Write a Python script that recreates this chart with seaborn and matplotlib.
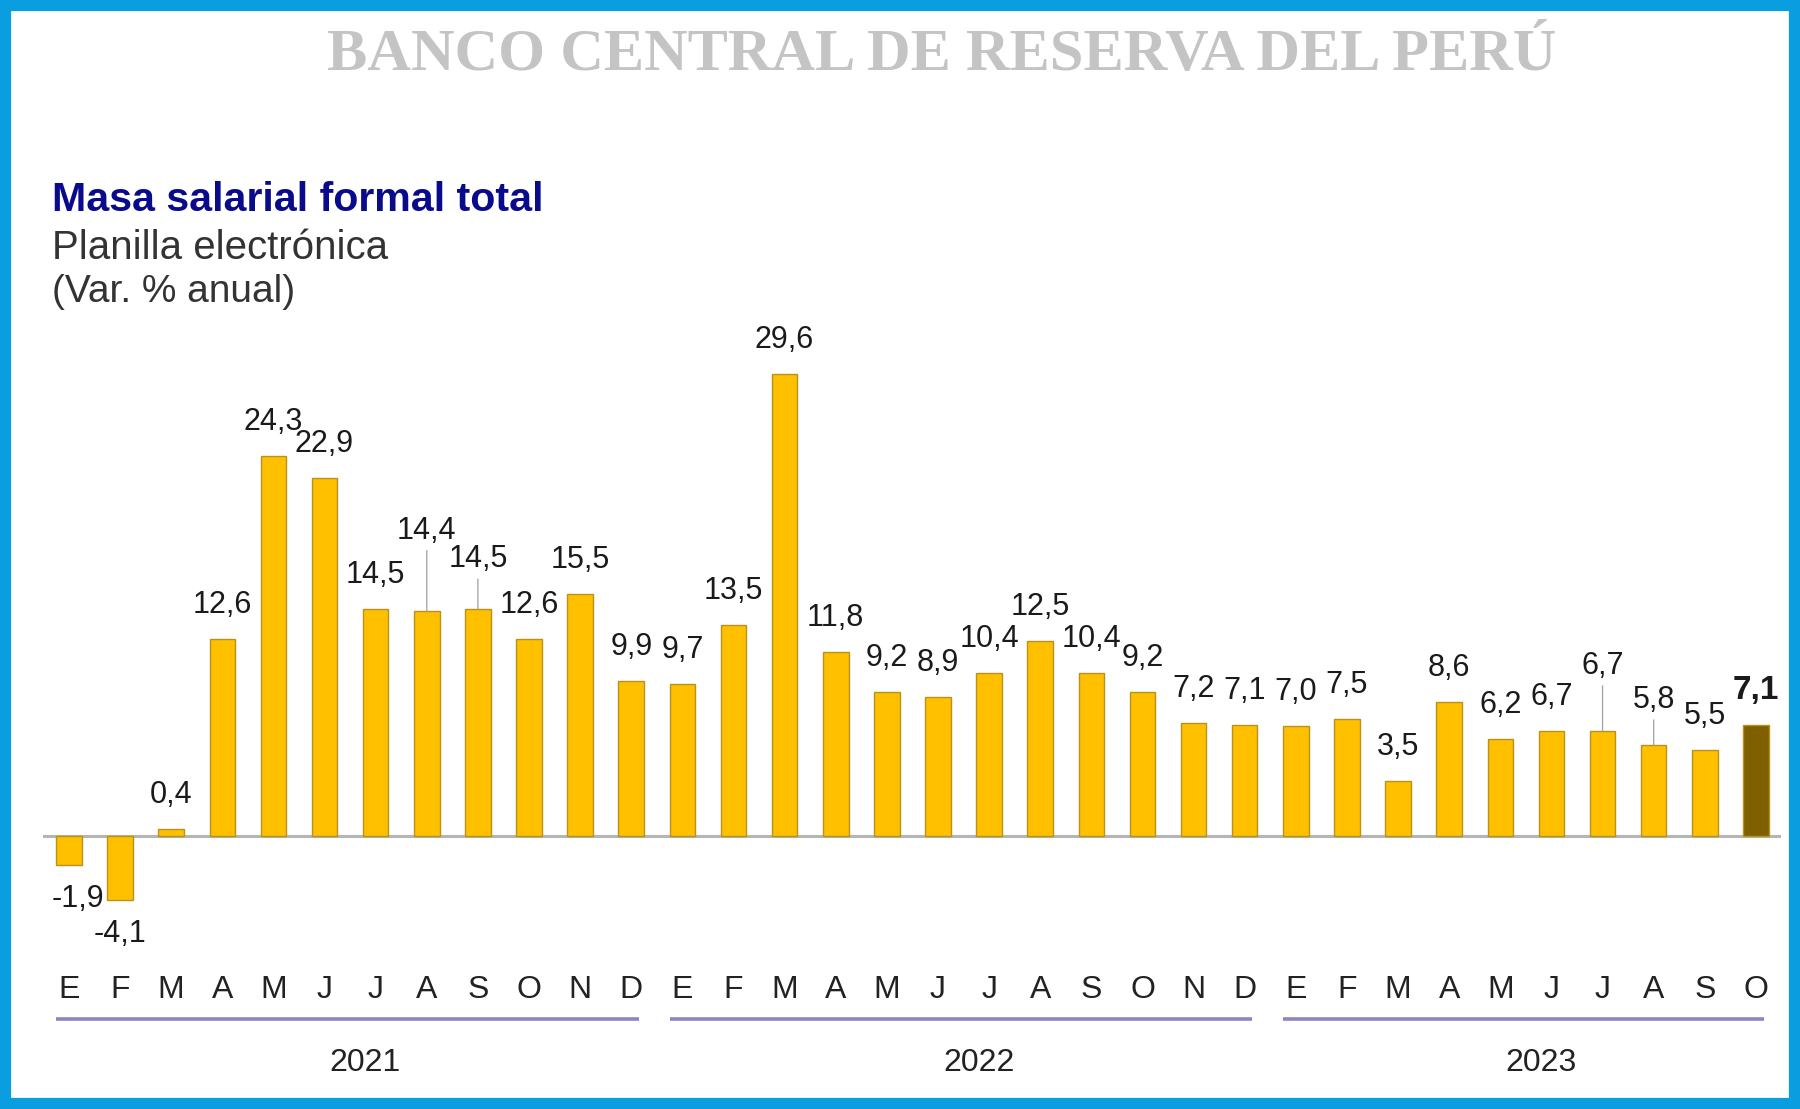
import pandas as pd
import matplotlib
matplotlib.use("Agg")
import matplotlib.pyplot as plt
import seaborn as sns
from matplotlib.patches import Rectangle

meses = ["E", "F", "M", "A", "M", "J", "J", "A", "S", "O", "N", "D"]
etiquetas = meses + meses + meses[:10]
anios = ["2021", "2022", "2023"]
meses_por_anio = [12, 12, 10]
valores = [-1.9, -4.1, 0.4, 12.6, 24.3, 22.9, 14.5, 14.4, 14.5, 12.6, 15.5, 9.9,
           9.7, 13.5, 29.6, 11.8, 9.2, 8.9, 10.4, 12.5, 10.4, 9.2, 7.2, 7.1,
           7.0, 7.5, 3.5, 8.6, 6.2, 6.7, 6.7, 5.8, 5.5, 7.1]

# etiquetas que suben más con línea guía (px extra)
extra = {7: 46, 8: 16, 30: 31, 31: 11}

sns.set_style("white")
plt.rcParams["font.family"] = ["Liberation Sans", "DejaVu Sans"]

PT = 0.72  # px -> pt a 100 dpi
amarillo = "#FFC000"
oscuro = "#7F6000"

df = pd.DataFrame({"pos": [str(i) for i in range(len(valores))], "valor": valores})
colores = [amarillo] * (len(valores) - 1) + [oscuro]

fig = plt.figure(figsize=(18, 11.09), dpi=100)
ax = fig.add_axes([0.0241, 0.1704, 0.9656, 0.532])
sns.barplot(data=df, x="pos", y="valor", hue="pos", palette=colores, legend=False,
            width=0.5, edgecolor="#B8921A", linewidth=1, ax=ax, saturation=1)
ax.set_xlim(-0.5, len(valores) - 0.5)
ax.set_ylim(-5.4, 32.4)
ax.set_axis_off()
ax.axhline(0, color="#B5B5B5", lw=2.2, zorder=0.5)

# etiquetas de datos
for i, v in enumerate(valores):
    txt = f"{v:.1f}".replace(".", ",")
    ultimo = i == len(valores) - 1
    off = 34 + extra.get(i, 0)
    dx = 9 if i == 0 else 0
    dy = off if v >= 0 else -off
    kw = {}
    if i in extra:
        kw["arrowprops"] = dict(arrowstyle="-", color="#A0A0A0", lw=0.9,
                                shrinkA=1, shrinkB=0)
    ax.annotate(txt, xy=(i, v), xytext=(dx * PT, dy * PT), textcoords="offset points",
                ha="center", va="center", fontsize=24 if ultimo else 22,
                fontweight="bold" if ultimo else "normal", color="#1A1A1A", **kw)

# meses y años
tr = ax.get_xaxis_transform()
for i, m in enumerate(etiquetas):
    ax.text(i, -0.119, m, transform=tr, ha="center", va="center",
            fontsize=23, color="#222222")

inicio = 0
for anio, n in zip(anios, meses_por_anio):
    fin = inicio + n - 1
    ax.plot([inicio - 0.25, fin + 0.15], [-0.168, -0.168], transform=tr,
            color="#8B86C0", lw=2.6, clip_on=False, solid_capstyle="butt")
    ax.text((inicio + fin) / 2 + 0.3, -0.243, anio, transform=tr, ha="center",
            va="center", fontsize=23, color="#222222")
    inicio += n

# textos de cabecera
fig.text(0.523, 1 - 56 / 1109, "BANCO CENTRAL DE RESERVA DEL PERÚ", ha="center",
         va="center", fontsize=43.5, fontweight="bold", color="#C4C4C4",
         family=["Liberation Serif", "DejaVu Serif"])
fig.text(52 / 1800, 1 - 200 / 1109, "Masa salarial formal total", ha="left", va="center",
         fontsize=29.6, fontweight="bold", color="#0A0A8C")
fig.text(52 / 1800, 1 - 248 / 1109, "Planilla electrónica", ha="left", va="center",
         fontsize=29, color="#333333")
fig.text(52 / 1800, 1 - 292 / 1109, "(Var. % anual)", ha="left", va="center",
         fontsize=28, color="#333333")

# marco azul
fig.patches.append(Rectangle((0, 0), 1, 1, transform=fig.transFigure, fill=False,
                             edgecolor="#0A9EE0", linewidth=16, zorder=10))

fig.savefig("out.png", dpi=100)
